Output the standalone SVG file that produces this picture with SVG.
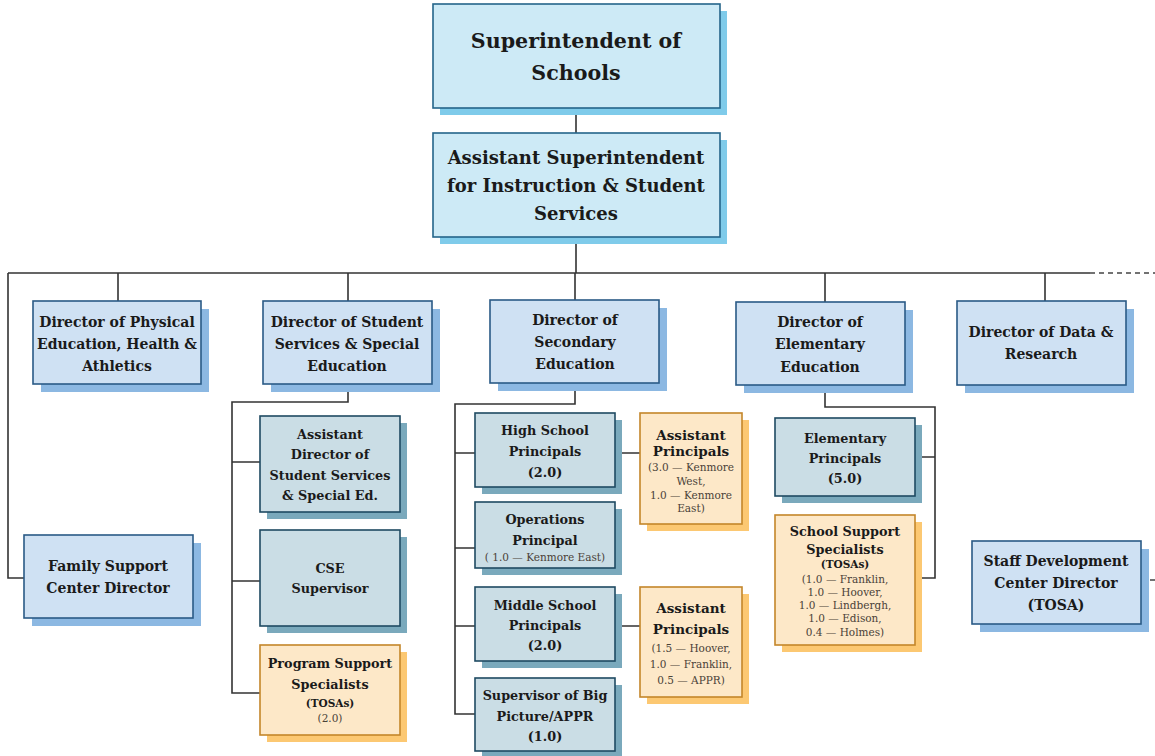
<svg xmlns="http://www.w3.org/2000/svg" width="1155" height="756" viewBox="0 0 1155 756">
<style>
text{font-family:"DejaVu Serif","Liberation Serif",serif;font-weight:bold;fill:#1a1a1a;text-anchor:middle}
.t1{font-size:20.6px}
.t2{font-size:18px}
.t3{font-size:14px}
.t4{font-size:12.8px}
.t5{font-size:13.5px}
.s{font-size:10.5px;font-weight:normal;fill:#4a4238}
.sb{font-size:10.5px}
.top{fill:#cdeaf6;stroke:#25658a;stroke-width:1.6}
.topsh{fill:#7fcbea}
.dir{fill:#cfe1f3;stroke:#2a5a86;stroke-width:1.6}
.dirsh{fill:#8cb8e2}
.sub{fill:#cadde5;stroke:#1e4a62;stroke-width:1.6}
.subsh{fill:#7aa9bc}
.or{fill:#fde8c8;stroke:#c4862a;stroke-width:1.6}
.orsh{fill:#fcc872}
.ln{fill:none;stroke:#333;stroke-width:1.6}
.dash{fill:none;stroke:#444;stroke-width:1.3;stroke-dasharray:5,4}
</style>
<g id="connectors">
<path class="ln" d="M576,108V133M576,237V273M8,273H1090M118,273V301M348,273V301M575,273V300M825,273V302M1045,273V301"/>
<path class="dash" d="M1090,273H1155M1141,580H1155"/>
<path class="ln" d="M8,273V578H24"/>
<path class="ln" d="M348,384V402H232V693H260M232,462H260M232,581H260"/>
<path class="ln" d="M575,383V404H455V714H475M455,453H475M455,548H475M455,626H475M615,453H640M615,626H640"/>
<path class="ln" d="M825,385V407H935V578H915M915,457H935"/>
</g>
<g id="superintendent">
<rect class="topsh" x="440" y="11" width="287" height="104"/>
<rect class="top" x="433" y="4" width="287" height="104"/>
<text class="t1" x="576" y="48">Superintendent of</text>
<text class="t1" x="576" y="80">Schools</text>
</g>
<g id="asst-superintendent">
<rect class="topsh" x="440" y="140" width="287" height="104"/>
<rect class="top" x="433" y="133" width="287" height="104"/>
<text class="t2" x="576" y="164">Assistant Superintendent</text>
<text class="t2" x="576" y="192">for Instruction &amp; Student</text>
<text class="t2" x="576" y="220">Services</text>
</g>
<g id="dir-phys-ed">
<rect class="dirsh" x="41" y="309" width="168" height="83"/>
<rect class="dir" x="33" y="301" width="168" height="83"/>
<text class="t3" x="117" y="327">Director of Physical</text>
<text class="t3" x="117" y="349">Education, Health &amp;</text>
<text class="t3" x="117" y="371">Athletics</text>
</g>
<g id="dir-student-services">
<rect class="dirsh" x="271" y="309" width="169" height="83"/>
<rect class="dir" x="263" y="301" width="169" height="83"/>
<text class="t3" x="347" y="327">Director of Student</text>
<text class="t3" x="347" y="349">Services &amp; Special</text>
<text class="t3" x="347" y="371">Education</text>
</g>
<g id="dir-secondary">
<rect class="dirsh" x="498" y="308" width="169" height="83"/>
<rect class="dir" x="490" y="300" width="169" height="83"/>
<text class="t3" x="575" y="325">Director of</text>
<text class="t3" x="575" y="347">Secondary</text>
<text class="t3" x="575" y="369">Education</text>
</g>
<g id="dir-elementary">
<rect class="dirsh" x="744" y="310" width="169" height="83"/>
<rect class="dir" x="736" y="302" width="169" height="83"/>
<text class="t3" x="820" y="327">Director of</text>
<text class="t3" x="820" y="349">Elementary</text>
<text class="t3" x="820" y="372">Education</text>
</g>
<g id="dir-data">
<rect class="dirsh" x="965" y="309" width="169" height="84"/>
<rect class="dir" x="957" y="301" width="169" height="84"/>
<text class="t3" x="1041" y="337">Director of Data &amp;</text>
<text class="t3" x="1041" y="359">Research</text>
</g>
<g id="family-support">
<rect class="dirsh" x="32" y="543" width="169" height="83"/>
<rect class="dir" x="24" y="535" width="169" height="83"/>
<text class="t3" x="108" y="571">Family Support</text>
<text class="t3" x="108" y="593">Center Director</text>
</g>
<g id="staff-development">
<rect class="dirsh" x="980" y="549" width="169" height="83"/>
<rect class="dir" x="972" y="541" width="169" height="83"/>
<text class="t3" x="1056" y="566">Staff Development</text>
<text class="t3" x="1056" y="588">Center Director</text>
<text class="t3" x="1056" y="610">(TOSA)</text>
</g>
<g id="asst-director">
<rect class="subsh" x="267" y="423" width="140" height="96"/>
<rect class="sub" x="260" y="416" width="140" height="96"/>
<text class="t4" x="330" y="439">Assistant</text>
<text class="t4" x="330" y="459">Director of</text>
<text class="t4" x="330" y="480">Student Services</text>
<text class="t4" x="330" y="500">&amp; Special Ed.</text>
</g>
<g id="cse-supervisor">
<rect class="subsh" x="267" y="537" width="140" height="96"/>
<rect class="sub" x="260" y="530" width="140" height="96"/>
<text class="t4" x="330" y="573">CSE</text>
<text class="t4" x="330" y="593">Supervisor</text>
</g>
<g id="program-support">
<rect class="orsh" x="267" y="652" width="140" height="90"/>
<rect class="or" x="260" y="645" width="140" height="90"/>
<text class="t4" x="330" y="668">Program Support</text>
<text class="t4" x="330" y="689">Specialists</text>
<text class="sb" x="330" y="707">(TOSAs)</text>
<text class="s" x="330" y="722">(2.0)</text>
</g>
<g id="hs-principals">
<rect class="subsh" x="482" y="420" width="140" height="74"/>
<rect class="sub" x="475" y="413" width="140" height="74"/>
<text class="t4" x="545" y="435">High School</text>
<text class="t4" x="545" y="456">Principals</text>
<text class="t4" x="545" y="477">(2.0)</text>
</g>
<g id="operations-principal">
<rect class="subsh" x="482" y="509" width="140" height="66"/>
<rect class="sub" x="475" y="502" width="140" height="66"/>
<text class="t4" x="545" y="524">Operations</text>
<text class="t4" x="545" y="545">Principal</text>
<text class="s" x="545" y="561">( 1.0 — Kenmore East)</text>
</g>
<g id="ms-principals">
<rect class="subsh" x="482" y="594" width="140" height="74"/>
<rect class="sub" x="475" y="587" width="140" height="74"/>
<text class="t4" x="545" y="610">Middle School</text>
<text class="t4" x="545" y="630">Principals</text>
<text class="t4" x="545" y="650">(2.0)</text>
</g>
<g id="big-picture">
<rect class="subsh" x="482" y="685" width="140" height="73"/>
<rect class="sub" x="475" y="678" width="140" height="73"/>
<text class="t4" x="545" y="700">Supervisor of Big</text>
<text class="t4" x="545" y="721">Picture/APPR</text>
<text class="t4" x="545" y="741">(1.0)</text>
</g>
<g id="hs-asst-principals">
<rect class="orsh" x="647" y="420" width="102" height="111"/>
<rect class="or" x="640" y="413" width="102" height="111"/>
<text class="t5" x="691" y="440">Assistant</text>
<text class="t5" x="691" y="456">Principals</text>
<text class="s" x="691" y="471">(3.0 — Kenmore</text>
<text class="s" x="691" y="485">West,</text>
<text class="s" x="691" y="499">1.0 — Kenmore</text>
<text class="s" x="691" y="512">East)</text>
</g>
<g id="ms-asst-principals">
<rect class="orsh" x="647" y="594" width="102" height="110"/>
<rect class="or" x="640" y="587" width="102" height="110"/>
<text class="t5" x="691" y="613">Assistant</text>
<text class="t5" x="691" y="634">Principals</text>
<text class="s" x="691" y="652">(1.5 — Hoover,</text>
<text class="s" x="691" y="668">1.0 — Franklin,</text>
<text class="s" x="691" y="684">0.5 — APPR)</text>
</g>
<g id="elem-principals">
<rect class="subsh" x="782" y="425" width="140" height="78"/>
<rect class="sub" x="775" y="418" width="140" height="78"/>
<text class="t4" x="845" y="443">Elementary</text>
<text class="t4" x="845" y="463">Principals</text>
<text class="t4" x="845" y="483">(5.0)</text>
</g>
<g id="school-support">
<rect class="orsh" x="782" y="522" width="140" height="130"/>
<rect class="or" x="775" y="515" width="140" height="130"/>
<text class="t4" x="845" y="536">School Support</text>
<text class="t4" x="845" y="554">Specialists</text>
<text class="sb" x="845" y="568">(TOSAs)</text>
<text class="s" x="845" y="583">(1.0 — Franklin,</text>
<text class="s" x="845" y="596">1.0 — Hoover,</text>
<text class="s" x="845" y="609">1.0 — Lindbergh,</text>
<text class="s" x="845" y="622">1.0 — Edison,</text>
<text class="s" x="845" y="636">0.4 — Holmes)</text>
</g>
</svg>
